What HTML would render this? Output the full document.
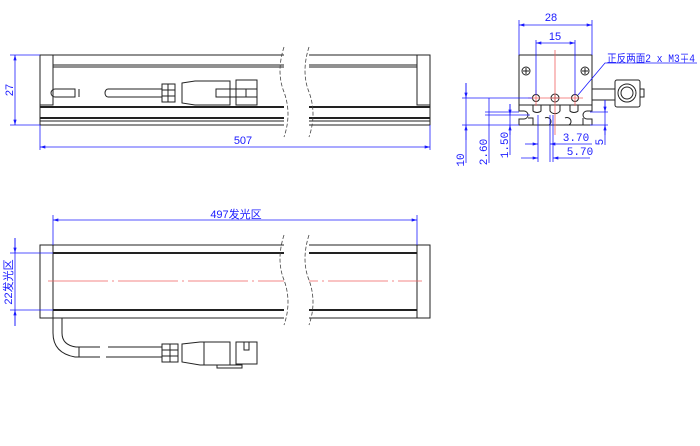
<!DOCTYPE html>
<html><head><meta charset="utf-8"><style>
html,body{margin:0;padding:0;background:#fff;}
svg{display:block}
text{font-family:"Liberation Sans","Noto Sans CJK SC",sans-serif;fill:#1a1aff;font-size:11px}
text.m{font-family:"Liberation Mono","Noto Sans CJK SC",monospace;}
</style></head><body>
<svg width="700" height="446" viewBox="0 0 700 446" xmlns="http://www.w3.org/2000/svg">
<defs>
<marker id="a" viewBox="0 0 10 6" refX="10" refY="3" markerWidth="8" markerHeight="4" orient="auto-start-reverse"><path d="M0,0L10,3L0,6z" fill="#1a1aff"/></marker>
</defs>
<g stroke="#222" fill="none" stroke-width="1">
<rect x="40" y="55" width="390" height="70" fill="#fff"/>
<rect x="40" y="55" width="13" height="50"/>
<rect x="417" y="55" width="13" height="50"/>
<line x1="53" y1="65" x2="417" y2="65"/><line x1="53" y1="67" x2="417" y2="67"/>
<line x1="40" y1="107" x2="430" y2="107" stroke-width="2"/>
<line x1="40" y1="118" x2="430" y2="118" stroke-width="2"/>
<line x1="40" y1="121" x2="430" y2="121"/>
<path d="M55,89 h20 v8 h-20 a4,4 0 0 1 0,-8z"/><line x1="79" y1="89" x2="79" y2="97"/>
<path d="M108,89 h54 v8 h-54 a3,4 0 0 1 0,-8z"/>
<rect x="162" y="84" width="13" height="18"/>
<line x1="168" y1="84" x2="168" y2="102"/>
<line x1="162" y1="90" x2="175" y2="90"/><line x1="162" y1="96" x2="175" y2="96"/>
<path d="M182,83 L195,81 L230,81 L230,105 L195,105 L182,103z"/>
<rect x="216" y="89" width="30" height="8"/>
<rect x="236" y="80" width="21" height="25"/>
<line x1="236" y1="89" x2="257" y2="89"/><line x1="236" y1="97" x2="257" y2="97"/>
</g>
<rect x="284" y="45" width="25" height="90" fill="#fff"/>
<g stroke="#444" fill="none" stroke-dasharray="4,2" stroke-width="0.8">
<path d="M284,47 q-8,25 0,45 q8,22 0,45"/><path d="M309,47 q-8,25 0,45 q8,22 0,45"/>
</g>
<g stroke="#1a1aff" stroke-width="0.8" fill="none">
<line x1="10" y1="55" x2="40" y2="55"/><line x1="10" y1="125" x2="40" y2="125"/>
<line x1="15" y1="55" x2="15" y2="125" marker-start="url(#a)" marker-end="url(#a)"/>
<line x1="40" y1="125" x2="40" y2="150"/><line x1="430" y1="125" x2="430" y2="150"/>
<line x1="40" y1="147" x2="430" y2="147" marker-start="url(#a)" marker-end="url(#a)"/>
</g>
<text x="13" y="90" transform="rotate(-90 13 90)" text-anchor="middle">27</text>
<text x="243" y="144" text-anchor="middle">507</text>

<g stroke="#222" fill="none" stroke-width="1">
<rect x="40" y="245" width="390" height="73" fill="#fff"/>
<line x1="53" y1="245" x2="53" y2="318"/>
<line x1="417" y1="245" x2="417" y2="318"/>
<line x1="53" y1="253" x2="417" y2="253" stroke-width="2"/>
<line x1="53" y1="310" x2="417" y2="310" stroke-width="2"/>
<path d="M53,318 v15 q0,20 22,24 h25 M62,318 v15 q0,12 14,14 h24"/>
<line x1="79" y1="347" x2="79" y2="357"/>
<path d="M108,347 h54 M106,357 h56"/>
<rect x="162" y="344" width="16" height="18"/>
<line x1="170" y1="344" x2="170" y2="362"/>
<line x1="162" y1="350" x2="178" y2="350"/><line x1="162" y1="356" x2="178" y2="356"/>
<path d="M182,344 L200,342 L230,342 L230,365 L200,365 L182,362z"/>
<line x1="204" y1="342" x2="204" y2="365"/>
<path d="M236,342 h21 v22 h-21z M244,342 v8 h5 v-8"/>
<rect x="217" y="365" width="25" height="3"/>
</g>
<line x1="48" y1="281" x2="422" y2="281" stroke="#f06060" stroke-width="0.8" stroke-dasharray="60,4,2,4"/>
<polyline points="418,245 430,245 430,290" fill="none" stroke="#222"/>
<rect x="284" y="233" width="25" height="95" fill="#fff"/>
<g stroke="#444" fill="none" stroke-dasharray="4,2" stroke-width="0.8">
<path d="M284,235 q-8,25 0,45 q8,22 0,45"/><path d="M309,235 q-8,25 0,45 q8,22 0,45"/>
</g>
<g stroke="#1a1aff" stroke-width="0.8" fill="none">
<line x1="53" y1="215" x2="53" y2="245"/><line x1="417" y1="215" x2="417" y2="245"/>
<line x1="53" y1="220" x2="417" y2="220" marker-start="url(#a)" marker-end="url(#a)"/>
<line x1="10" y1="253" x2="53" y2="253"/><line x1="10" y1="310" x2="53" y2="310"/>
<line x1="15" y1="238" x2="15" y2="326"/>
<line x1="15" y1="238" x2="15" y2="253" marker-end="url(#a)"/>
<line x1="15" y1="326" x2="15" y2="310" marker-end="url(#a)"/>
</g>
<text x="236" y="218" text-anchor="middle">497发光区</text>
<text x="12" y="282" transform="rotate(-90 12 282)" text-anchor="middle">22发光区</text>

<g stroke="#222" fill="none" stroke-width="1">
<rect x="519" y="55" width="73" height="50" fill="#fff"/>
<path d="M519,105 v6 h5 a4,4 0 0 1 0,8 h-5 v6 h73 v-6 h-5 a4,4 0 0 1 0,-8 h5 v-6"/>
<path d="M533,105 v6 a6,6 0 0 0 8,0 v-6 M550,105 v6 a6,6 0 0 0 10,0 v-6 M570,105 v6 a6,6 0 0 0 8,0 v-6"/>
<path d="M528,118 h5 v7 M545,118 a4,4 0 0 1 4,7 M565,118 a4,4 0 0 1 4,7 M583,118 v7"/>
<circle cx="526" cy="71" r="4"/><circle cx="585" cy="71" r="4"/>
<path d="M523,71h6M526,68v6M582,71h6M585,68v6"/>
<circle cx="536" cy="98" r="3.5"/><circle cx="555" cy="98" r="4"/><circle cx="575" cy="98" r="3.5"/>
<path d="M552,98h6M555,95v6"/>
<rect x="592" y="89" width="23" height="11"/>
<rect x="615" y="80" width="25" height="27" rx="2"/>
<circle cx="627" cy="93" r="9"/><circle cx="627" cy="93" r="6"/>
<rect x="640" y="89" width="4" height="8"/>
</g>
<g stroke="#f06060" stroke-width="0.8">
<line x1="555" y1="50" x2="555" y2="135"/>
<line x1="528" y1="98" x2="583" y2="98"/>
<line x1="536" y1="90" x2="536" y2="106"/><line x1="575" y1="90" x2="575" y2="106"/>
</g>
<g stroke="#1a1aff" stroke-width="0.8" fill="none">
<line x1="519" y1="20" x2="519" y2="55"/><line x1="592" y1="20" x2="592" y2="55"/>
<line x1="519" y1="25" x2="592" y2="25" marker-start="url(#a)" marker-end="url(#a)"/>
<line x1="536" y1="40" x2="536" y2="95"/><line x1="575" y1="40" x2="575" y2="95"/>
<line x1="536" y1="43" x2="575" y2="43" marker-start="url(#a)" marker-end="url(#a)"/>
<polyline points="697,63 605,63 578,95" />
<line x1="462" y1="98" x2="532" y2="98"/>
<line x1="485" y1="112" x2="519" y2="112"/><line x1="485" y1="115" x2="530" y2="115"/>
<line x1="462" y1="125" x2="519" y2="125"/>
<line x1="466" y1="83" x2="466" y2="163"/>
<line x1="466" y1="83" x2="466" y2="98" marker-end="url(#a)"/>
<line x1="466" y1="140" x2="466" y2="125" marker-end="url(#a)"/>
<line x1="489" y1="98" x2="489" y2="163"/>
<line x1="510" y1="104" x2="510" y2="155"/>
<line x1="510" y1="104" x2="510" y2="115" marker-end="url(#a)"/>
<line x1="510" y1="135" x2="510" y2="125" marker-end="url(#a)"/>
<line x1="590" y1="112" x2="608" y2="112"/><line x1="590" y1="125" x2="608" y2="125"/>
<line x1="605" y1="100" x2="605" y2="145"/>
<line x1="605" y1="100" x2="605" y2="112" marker-end="url(#a)"/>
<line x1="605" y1="135" x2="605" y2="125" marker-end="url(#a)"/>
<line x1="538" y1="115" x2="538" y2="162"/><line x1="550" y1="115" x2="550" y2="162"/><line x1="553" y1="115" x2="553" y2="162"/>
<line x1="525" y1="144" x2="538" y2="144" marker-end="url(#a)"/>
<line x1="566" y1="144" x2="550" y2="144" marker-end="url(#a)"/>
<line x1="566" y1="144" x2="592" y2="144"/>
<line x1="521" y1="158" x2="538" y2="158" marker-end="url(#a)"/>
<line x1="570" y1="158" x2="553" y2="158" marker-end="url(#a)"/>
<line x1="570" y1="158" x2="590" y2="158"/>
</g>
<text x="551" y="21" text-anchor="middle" font-size="10">28</text>
<text x="555" y="40" text-anchor="middle" font-size="10">15</text>
<text class="m" x="607" y="62" font-size="10" textLength="88" lengthAdjust="spacingAndGlyphs">正反两面2 x M3∓4</text>
<text class="m" x="466" y="160" transform="rotate(-90 466 160)" text-anchor="middle" font-size="10" dy="-2">10</text>
<text class="m" x="489" y="152" transform="rotate(-90 489 152)" text-anchor="middle" font-size="10" dy="-2">2.60</text>
<text class="m" x="510" y="145" transform="rotate(-90 510 145)" text-anchor="middle" font-size="10" dy="-2">1.50</text>
<text class="m" x="605" y="142" transform="rotate(-90 605 142)" text-anchor="middle" font-size="10" dy="-2">5</text>
<text class="m" x="576" y="141" text-anchor="middle" font-size="10">3.70</text>
<text class="m" x="580" y="155" text-anchor="middle" font-size="10">5.70</text>
</svg>
</body></html>
